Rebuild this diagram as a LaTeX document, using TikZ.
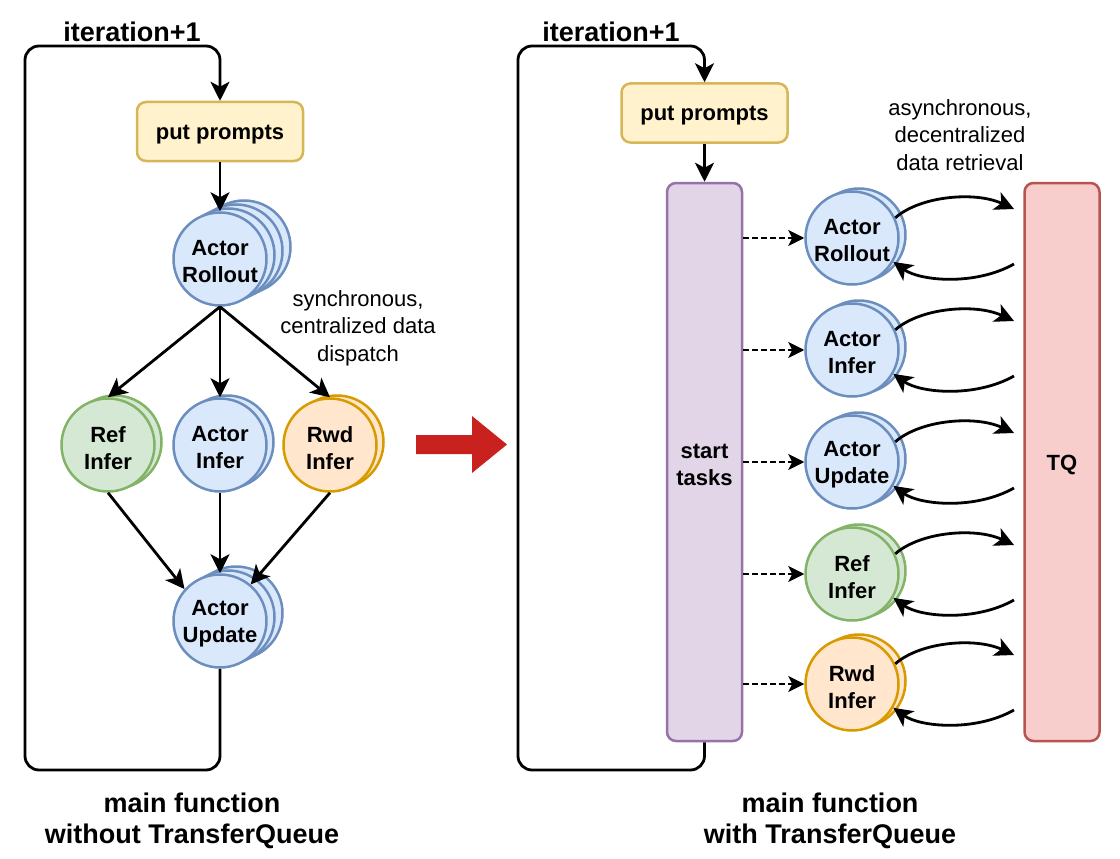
\documentclass[tikz,border=0pt]{standalone}
\usepackage{fontspec}
\setmainfont{Liberation Sans}
\usetikzlibrary{arrows.meta}
\definecolor{bfill}{HTML}{DAE8FC}\definecolor{bline}{HTML}{6C8EBF}
\definecolor{gfill}{HTML}{D5E8D4}\definecolor{gline}{HTML}{82B366}
\definecolor{ofill}{HTML}{FFE6CC}\definecolor{oline}{HTML}{D79B00}
\definecolor{yfill}{HTML}{FFF2CC}\definecolor{yline}{HTML}{D6B656}
\definecolor{pfill}{HTML}{E1D5E7}\definecolor{pline}{HTML}{9673A6}
\definecolor{rfill}{HTML}{F8CECC}\definecolor{rline}{HTML}{B85450}
\definecolor{bigred}{HTML}{C9211E}
\tikzset{
  lab/.style={font=\fontsize{22}{27}\selectfont\bfseries, align=center, yshift=-3pt, inner sep=0pt},
  txt/.style={label={[lab]center:#1}},
  circ/.style={circle, line width=2.5pt, minimum size=93pt, inner sep=0pt},
  bluec/.style={circ, fill=bfill, draw=bline},
  greenc/.style={circ, fill=gfill, draw=gline},
  orangec/.style={circ, fill=ofill, draw=oline},
  box/.style={rectangle, rounded corners=9pt, line width=2.5pt, inner sep=0pt},
  ppbox/.style={box, fill=yfill, draw=yline, minimum width=166pt, minimum height=59pt},
  bar/.style={box, minimum width=75pt, minimum height=558pt},
  title/.style={font=\fontsize{27}{31}\selectfont\bfseries, align=center},
  note/.style={font=\fontsize{22}{27.5}\selectfont, align=center},
  arr/.style={line width=2.8pt, -{Stealth[length=19pt,width=19pt,inset=5pt]}},
  darr/.style={line width=2pt, dash pattern=on 5.5pt off 3.5pt,
    -{Stealth[length=16pt,width=16pt,inset=4pt]}},
}
\begin{document}
\begin{tikzpicture}[x=1pt,y=-1pt]
\useasboundingbox (0,0) rectangle (1120,859);

% ---------------- left panel ----------------
\node[title] (it1) at (132,32) {iteration+1};
\node[ppbox, txt={put prompts}] (pp1) at (220,131.5) {};

\foreach \k in {3,2,1} \node[bluec] at (220+8*\k,259-4*\k) {};
\node[bluec, txt={Actor\\Rollout}] (aro) at (220,259) {};

\node[greenc] at (115,442) {};
\node[greenc, txt={Ref\\Infer}] (ref) at (108,445) {};
\node[bluec] at (227,442) {};
\node[bluec, txt={Actor\\Infer}] (ainf) at (220,445) {};
\node[orangec] at (337,442) {};
\node[orangec, txt={Rwd\\Infer}] (rwd) at (330,445) {};

\foreach \k in {2,1} \node[bluec] at (220+8*\k,621-4*\k) {};
\node[bluec, txt={Actor\\Update}] (aupd) at (220,621) {};

\node[note] (sync) at (358,328) {synchronous,\\centralized data\\dispatch};

\draw[arr] (pp1.south) -- (aro.north);
\draw[arr] (aro.south) -- (ref.north);
\draw[arr] (aro.south) -- (ainf.north);
\draw[arr] (aro.south) -- (rwd.north);
\draw[arr] (ref.south) -- (aupd.138);
\draw[arr] (ainf.south) -- (aupd.north);
\draw[arr] (rwd.south) -- (aupd.50);

\coordinate (lb1) at (25,770);
\coordinate (lt1) at (25,46);
\draw[arr, rounded corners=14pt] (aupd.south) |- (lb1) -- (lt1) -| (pp1.north);

\node[title] (t1) at (192,821) {main function\\without TransferQueue};

% ---------------- big red arrow ----------------
\fill[bigred] (416,435) -- (472,435) -- (472,416) -- (507,444.5) -- (472,473)
  -- (472,454) -- (416,454) -- cycle;

% ---------------- right panel ----------------
\node[title] (it2) at (611,32) {iteration+1};
\node[ppbox, txt={put prompts}] (pp2) at (704.5,113) {};
\node[bar, fill=pfill, draw=pline, txt={start\\tasks}] (st) at (704.5,462) {};
\node[bar, fill=rfill, draw=rline, txt={TQ}] (tq) at (1062,462) {};
\node[note] (async) at (960,135) {asynchronous,\\decentralized\\data retrieval};

\draw[arr] (pp2.south) -- (st.north);
\coordinate (lb2) at (518,770);
\coordinate (lt2) at (518,46);
\draw[arr, rounded corners=14pt] (st.south) |- (lb2) -- (lt2) -| (pp2.north);

\foreach \n/\cy/\st/\t in {r1/238/bluec/{Actor\\Rollout}, r2/350/bluec/{Actor\\Infer},
    r3/462/bluec/{Actor\\Update}, r4/574/greenc/{Ref\\Infer}, r5/684/orangec/{Rwd\\Infer}} {
  \node[\st] at (859,\cy-3) {};
  \node[\st, txt={\t}] (\n) at (852,\cy) {};
  \draw[darr] (st.east |- \n.west) -- (\n.west);
  \coordinate (\n-u) at (1014,\cy-29);
  \coordinate (\n-l) at (1014,\cy+26);
  \draw[arr] (\n.25) .. controls (920,\cy-42) and (975,\cy-47) .. (\n-u);
  \draw[arr] (\n-l) .. controls (975,\cy+48) and (920,\cy+43) .. (\n.-30);
}

\node[title] (t2) at (830,821) {main function\\with TransferQueue};
\end{tikzpicture}
\end{document}
